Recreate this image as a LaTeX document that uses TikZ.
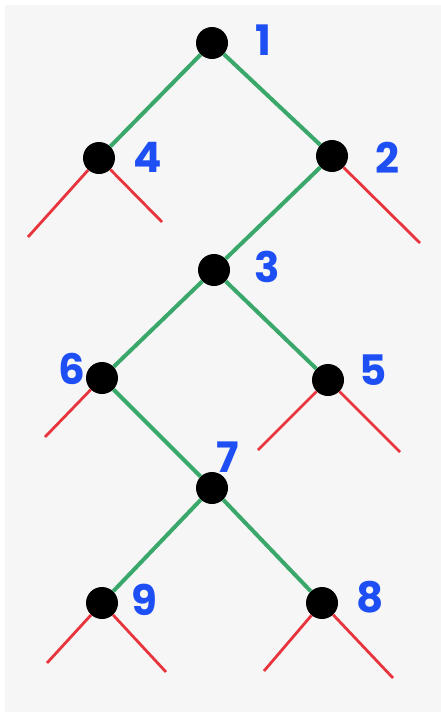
\documentclass[tikz,border=0pt]{standalone}
\usepackage{fontspec}
\setmainfont{Poppins}
\definecolor{paper}{HTML}{F6F6F6}
\definecolor{edgegreen}{HTML}{3BA86B}
\definecolor{leafred}{HTML}{E8343C}
\definecolor{numblue}{HTML}{1E4FF5}

\begin{document}
\begin{tikzpicture}[x=1pt,y=-1pt,
  dot/.style={circle,fill=black,inner sep=0pt,minimum size=32pt},
  branch/.style={draw=edgegreen,line width=4pt},
  leaf/.style={draw=leafred,line width=2.8pt},
  num/.style={text=numblue,inner sep=0pt,font=\fontsize{42}{42}\selectfont\bfseries}]
  \useasboundingbox (0,0) rectangle (441,712);
  \fill[white] (0,0) rectangle (441,712);
  \fill[paper] (5,5) rectangle (441,712);

  % vertices
  \node[dot] (n1) at (212,43) {};
  \node[dot] (n4) at (99,158) {};
  \node[dot] (n2) at (332,156) {};
  \node[dot] (n3) at (214,270) {};
  \node[dot] (n6) at (102,378) {};
  \node[dot] (n5) at (328,380) {};
  \node[dot] (n7) at (212,488) {};
  \node[dot] (n9) at (102,603) {};
  \node[dot] (n8) at (322,603) {};

  % numbers
  \node[num] (t1) at (263,40) {1};
  \node[num] (t4) at (148,157) {4};
  \node[num] (t2) at (387,158) {2};
  \node[num] (t3) at (267,267) {3};
  \node[num] (t6) at (72,369) {6};
  \node[num] (t5) at (373,370) {5};
  \node[num] (t7) at (228,457) {7};
  \node[num] (t9) at (144,600) {9};
  \node[num] (t8) at (370,597) {8};

  % free ends of the red stubs
  \coordinate (e4a) at (28,237);
  \coordinate (e4b) at (162,222);
  \coordinate (e2b) at (420,243);
  \coordinate (e6a) at (45,437);
  \coordinate (e5a) at (258,450);
  \coordinate (e5b) at (400,452);
  \coordinate (e9a) at (47,663);
  \coordinate (e9b) at (166,672);
  \coordinate (e8a) at (264,671);
  \coordinate (e8b) at (393,678);

  % green edges
  \draw[branch] (n1) -- (n4);
  \draw[branch] (n1) -- (n2);
  \draw[branch] (n2) -- (n3);
  \draw[branch] (n3) -- (n6);
  \draw[branch] (n3) -- (n5);
  \draw[branch] (n6) -- (n7);
  \draw[branch] (n7) -- (n9);
  \draw[branch] (n7) -- (n8);

  % red stubs
  \draw[leaf] (n4) -- (e4a);
  \draw[leaf] (n4) -- (e4b);
  \draw[leaf] (n2) -- (e2b);
  \draw[leaf] (n6) -- (e6a);
  \draw[leaf] (n5) -- (e5a);
  \draw[leaf] (n5) -- (e5b);
  \draw[leaf] (n9) -- (e9a);
  \draw[leaf] (n9) -- (e9b);
  \draw[leaf] (n8) -- (e8a);
  \draw[leaf] (n8) -- (e8b);
\end{tikzpicture}
\end{document}
